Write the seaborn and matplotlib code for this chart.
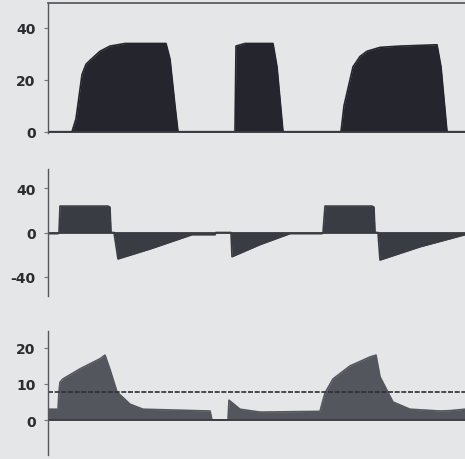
import matplotlib
matplotlib.use("Agg")
import matplotlib.pyplot as plt
import seaborn as sns
import pandas as pd

# ventilator waveforms (time in s, 50 px = 1 s)
pressure_t = [0, 0.48, 0.56, 0.68, 0.76, 0.84, 1.04, 1.24, 1.54, 2.36, 2.44, 2.54, 2.60,
              3.74, 3.76, 3.94, 4.50, 4.58, 4.70,
              5.86, 5.92, 6.10, 6.24, 6.38, 6.64, 7.04, 7.78, 7.86, 7.98, 8.34]
pressure = [0, 0, 5, 22, 26, 27.5, 31, 33, 34, 34, 28, 10, 0,
            0, 33, 34, 34, 25, 0,
            0, 10, 25, 29, 31, 32.5, 33, 33.5, 25, 0, 0]

flow_t = [0, 0.20, 0.22, 0.24, 1.20, 1.24, 1.26, 1.32, 1.40, 2.04, 2.88, 3.34, 3.36,
          3.66, 3.68, 4.24, 4.84, 5.48, 5.50, 5.54, 6.48, 6.52, 6.54, 6.60, 6.64, 7.44, 8.34]
flow = [-1, -1, 0, 24, 24, 23, 0, 0, -24, -15, -2, -2, 0,
        0, -22, -11, -1, -1, 0, 24, 24, 23, 0, 0, -25, -13, -2]

volume_t = [0, 0.20, 0.22, 0.24, 0.30, 0.64, 1.04, 1.14, 1.24, 1.38, 1.64, 1.90, 3.24,
            3.28, 3.60, 3.62, 3.84, 4.24, 5.44, 5.48, 5.54, 5.70, 6.04, 6.44, 6.56,
            6.64, 6.90, 7.24, 7.84, 8.04, 8.34]
volume = [3, 3, 7.8, 10.5, 11.4, 14.2, 17, 18, 14, 7.8, 4.4, 3, 2.5,
          0, 0, 5.5, 3, 2.2, 2.4, 4.5, 7.5, 11.4, 15, 17.5, 18,
          12, 5, 3, 2.5, 2.6, 3]
volume_ref = 7.8

ticks_p = [0, 20, 40]
ticks_f = [-40, 0, 40]
ticks_v = [0, 10, 20]

bg = "#e5e6e8"
sns.set_theme(style="white", rc={"figure.facecolor": bg, "axes.facecolor": bg})
plt.rcParams['font.family'] = ['DejaVu Sans']

fig = plt.figure(figsize=(4.65, 4.6), dpi=100)
left, width = 48 / 465, 417 / 465
ax1 = fig.add_axes([left, 326 / 460, width, 130 / 460])
ax2 = fig.add_axes([left, 163 / 460, width, 127 / 460])
ax3 = fig.add_axes([left, 4 / 460, width, 124 / 460])

panels = [
    (ax1, pressure_t, pressure, ticks_p, (-0.5, 49.6), "#25262d"),
    (ax2, flow_t, flow, ticks_f, (-57.7, 57.7), "#3a3c44"),
    (ax3, volume_t, volume, ticks_v, (-9.7, 24.7), "#54565d"),
]

for ax, t, y, ticks, lim, col in panels:
    df = pd.DataFrame({"t": t, "y": y})
    ax.fill_between(df["t"], 0, df["y"], color=col, linewidth=0)
    sns.lineplot(data=df, x="t", y="y", ax=ax, color=col, linewidth=1.2)
    ax.axhline(0, color="#3a3b40", linewidth=1.3)
    ax.set_xlim(0, 8.34)
    ax.set_ylim(*lim)
    ax.set_yticks(ticks)
    ax.set_yticklabels([str(v) for v in ticks], fontsize=10, fontweight="bold", color="#2b2c30")
    ax.tick_params(axis="y", length=3, width=0.8, color="#777", pad=6, left=True)
    ax.set_xticks([])
    ax.set_xlabel("")
    ax.set_ylabel("")
    for s in ["right", "bottom", "top"]:
        ax.spines[s].set_visible(False)
    ax.spines["left"].set_color("#55565c")
    ax.spines["left"].set_linewidth(1.0)

# dotted upper frame on the pressure panel
ax1.spines["top"].set_visible(True)
ax1.spines["top"].set_color("#55565c")
ax1.spines["top"].set_linestyle((0, (2, 1)))

# reference line on volume panel
ax3.axhline(volume_ref, color="#2e2f35", linewidth=1.2, linestyle=(0, (3, 1)))

fig.savefig("out.png", dpi=100, facecolor=bg)
